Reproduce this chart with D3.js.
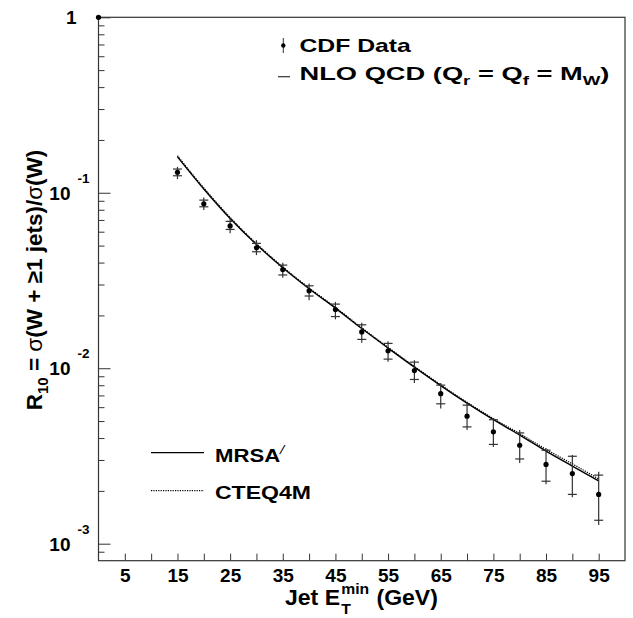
<!DOCTYPE html>
<html>
<head>
<meta charset="utf-8">
<script src="https://cdn.jsdelivr.net/npm/d3@7"></script>
<style>
  body { margin: 0; background: #fff; }
  text { font-family: "Liberation Sans", Arial, sans-serif; font-weight: bold; fill: #000; }
</style>
</head>
<body>
<div id="chart"></div>
<script>
var svgWidth = 633;
var svgHeight = 618;

var margin = { top: 17.3, right: 8, bottom: 57.3, left: 98.5 };
var width = svgWidth - margin.left - margin.right;
var height = svgHeight - margin.top - margin.bottom;

// CDF data: jet Et threshold (GeV) and R10
var etMin = [0, 15, 20, 25, 30, 35, 40, 45, 50, 55, 60, 65, 70, 75, 80, 85, 90, 95];
var r10 = [1, 0.1307, 0.0866, 0.0647, 0.0486, 0.0365, 0.0276, 0.0216, 0.0161, 0.01257, 0.0097, 0.00716, 0.00533, 0.00434, 0.00364, 0.00283, 0.00251, 0.00191];
// inner error (crossbars)
var statHi = [1, 0.1365, 0.0908, 0.0687, 0.0515, 0.0387, 0.0295, 0.0232, 0.01768, 0.01385, 0.01083, 0.00801, 0.00616, 0.00509, 0.00428, 0.00341, 0.00315, 0.00246];
var statLo = [1, 0.1250, 0.0832, 0.0618, 0.0461, 0.0340, 0.0258, 0.0197, 0.01460, 0.01127, 0.00863, 0.00627, 0.00463, 0.00368, 0.00304, 0.00227, 0.00191, 0.00136];
// total error (vertical line)
var totHi = [1, 0.1406, 0.0941, 0.0715, 0.0537, 0.0399, 0.0304, 0.0239, 0.01815, 0.01427, 0.01112, 0.00825, 0.00635, 0.00519, 0.00444, 0.00350, 0.00320, 0.00257];
var totLo = [1, 0.1197, 0.0797, 0.0587, 0.0441, 0.0328, 0.0244, 0.0190, 0.01396, 0.01088, 0.00825, 0.00590, 0.00444, 0.00356, 0.00288, 0.00218, 0.00184, 0.00128];

// NLO QCD predictions
var etTheory = [15, 20, 25, 30, 35, 40, 45, 50, 55, 60, 65, 70, 75, 80, 85, 90, 95];
var mrsa = [0.1603, 0.1050, 0.0713, 0.0507, 0.0374, 0.0284, 0.0220, 0.01683, 0.01303, 0.01014, 0.00796, 0.00632, 0.00509, 0.00416, 0.00337, 0.00277, 0.00228];
var cteq = [0.1625, 0.1065, 0.0723, 0.0513, 0.0378, 0.0287, 0.0222, 0.01700, 0.01315, 0.01023, 0.00804, 0.00639, 0.00516, 0.00424, 0.00345, 0.00285, 0.00234];

var xTicks = d3.range(5, 100, 5);
var xLabels = [5, 15, 25, 35, 45, 55, 65, 75, 85, 95];
var yDecades = [1e-3, 1e-2, 1e-1, 1];
var yExponents = ["-3", "-2", "-1"];

var svg = d3.select("#chart").append("svg")
  .attr("width", svgWidth)
  .attr("height", svgHeight);

var chartGroup = svg.append("g")
  .attr("transform", `translate(${margin.left}, ${margin.top})`);

var x = d3.scaleLinear().domain([0, 100]).range([0, width]);
var y = d3.scaleLog().domain([0.0008, 1]).range([height, 0]);

var axisColor = "#333";

// stretch a text horizontally so it spans a given width from x0
function stretch(sel, x0, targetWidth) {
  var w = sel.node().getBBox().width;
  var s = targetWidth / w;
  sel.attr("transform", `translate(${x0},0) scale(${s},1) translate(${-x0},0)`);
}

// frame
chartGroup.append("rect")
  .attr("width", width)
  .attr("height", height)
  .attr("fill", "none")
  .attr("stroke", axisColor)
  .attr("stroke-width", 1.2);

// x axis
var xAxis = chartGroup.append("g")
  .attr("transform", `translate(0, ${height})`)
  .call(d3.axisBottom(x)
    .tickValues(xTicks)
    .tickSizeInner(-7)
    .tickSizeOuter(0)
    .tickPadding(8)
    .tickFormat(d => xLabels.indexOf(d) >= 0 ? d : ""));
xAxis.select(".domain").remove();
xAxis.selectAll("line").attr("stroke", axisColor);
xAxis.selectAll("text")
  .attr("font-size", "19px")
  .attr("font-family", "Liberation Sans, Arial, sans-serif")
  .attr("font-weight", "bold")
  .attr("fill", "#000");

// y axis: decades and minor ticks
var yMinor = [];
[1e-4, 1e-3, 1e-2, 1e-1].forEach(function(dec) {
  d3.range(2, 10).forEach(function(m) {
    var v = m * dec;
    if (v > 0.00081 && v < 1) yMinor.push(v);
  });
});

var yMajorAxis = chartGroup.append("g")
  .call(d3.axisLeft(y).tickValues(yDecades).tickSizeInner(-12).tickSizeOuter(0).tickFormat(""));
var yMinorAxis = chartGroup.append("g")
  .call(d3.axisLeft(y).tickValues(yMinor).tickSizeInner(-6).tickSizeOuter(0).tickFormat(""));
[yMajorAxis, yMinorAxis].forEach(function(a) {
  a.select(".domain").remove();
  a.selectAll("line").attr("stroke", axisColor);
});

// y tick labels 10^n
var yLab = chartGroup.append("g");
yLab.append("text")
  .attr("x", -22)
  .attr("y", y(1) + 7)
  .attr("text-anchor", "end")
  .attr("font-size", "19px")
  .text("1");
yDecades.slice(0, 3).forEach(function(v, i) {
  yLab.append("text")
    .attr("x", -28)
    .attr("y", y(v) + 7)
    .attr("text-anchor", "end")
    .attr("font-size", "19px")
    .text("10");
  yLab.append("text")
    .attr("x", -21)
    .attr("y", y(v) - 10)
    .attr("font-size", "13.5px")
    .text(yExponents[i]);
});

// theory curves
var line = d3.line()
  .x((d, i) => x(etTheory[i]))
  .y(d => y(d))
  .curve(d3.curveMonotoneX);

chartGroup.append("path")
  .attr("d", line(cteq))
  .attr("fill", "none")
  .attr("stroke", "#000")
  .attr("stroke-width", 1.3)
  .attr("stroke-dasharray", "1.2,1.2");

chartGroup.append("path")
  .attr("d", line(mrsa))
  .attr("fill", "none")
  .attr("stroke", "#000")
  .attr("stroke-width", 1.4);

// data points with error bars
var points = chartGroup.selectAll(".pt")
  .data(etMin)
  .enter()
  .append("g")
  .attr("class", "pt");

points.append("line")
  .attr("x1", d => x(d)).attr("x2", d => x(d))
  .attr("y1", (d, i) => y(totHi[i]))
  .attr("y2", (d, i) => y(totLo[i]))
  .attr("stroke", "#333")
  .attr("stroke-width", 1.2);

[statHi, statLo].forEach(function(arr) {
  points.filter((d, i) => i > 0).append("line")
    .attr("x1", d => x(d) - 4.5).attr("x2", d => x(d) + 4.5)
    .attr("y1", d => y(arr[etMin.indexOf(d)]))
    .attr("y2", d => y(arr[etMin.indexOf(d)]))
    .attr("stroke", "#333")
    .attr("stroke-width", 1.2);
});

points.append("circle")
  .attr("cx", d => x(d))
  .attr("cy", (d, i) => y(r10[i]))
  .attr("r", 2.6)
  .attr("fill", "#000");

// top legend
svg.append("line")
  .attr("x1", 283.3).attr("x2", 283.3)
  .attr("y1", 38).attr("y2", 53)
  .attr("stroke", "#333").attr("stroke-width", 1);
svg.append("circle")
  .attr("cx", 283.3).attr("cy", 45.5).attr("r", 2.2).attr("fill", "#000");
var cdf = svg.append("text")
  .attr("x", 299.5).attr("y", 51.7)
  .attr("font-size", "19px")
  .text("CDF Data");
stretch(cdf, 299.5, 112);

svg.append("line")
  .attr("x1", 278).attr("x2", 290)
  .attr("y1", 76.7).attr("y2", 76.7)
  .attr("stroke", "#333").attr("stroke-width", 1.2);
var nlo = svg.append("text")
  .attr("x", 299.5).attr("y", 80.5)
  .attr("font-size", "19px");
nlo.append("tspan").text("NLO QCD (Q");
nlo.append("tspan").attr("font-size", "13px").attr("dy", 5).text("r");
nlo.append("tspan").attr("dy", -5).text(" = Q");
nlo.append("tspan").attr("font-size", "13px").attr("dy", 5).text("f");
nlo.append("tspan").attr("dy", -5).text(" = M");
nlo.append("tspan").attr("font-size", "13px").attr("dy", 5).text("W");
nlo.append("tspan").attr("dy", -5).text(")");
stretch(nlo, 299.5, 310);

// bottom legend
svg.append("line")
  .attr("x1", 151).attr("x2", 204)
  .attr("y1", 452.7).attr("y2", 452.7)
  .attr("stroke", "#000").attr("stroke-width", 1.3);
var mr = svg.append("text")
  .attr("x", 215).attr("y", 461.7)
  .attr("font-size", "19px");
mr.append("tspan").text("MRSA");
mr.append("tspan").attr("font-size", "13px").attr("font-style", "italic").attr("font-weight", "normal").attr("dy", -8).text("/");
stretch(mr, 215, 71);

svg.append("line")
  .attr("x1", 151).attr("x2", 204)
  .attr("y1", 490.7).attr("y2", 490.7)
  .attr("stroke", "#000").attr("stroke-width", 1.2)
  .attr("stroke-dasharray", "1.2,1.2");
var ct = svg.append("text")
  .attr("x", 215).attr("y", 499)
  .attr("font-size", "19px")
  .text("CTEQ4M");
stretch(ct, 215, 96);

// x axis title
var xt = svg.append("g");
var xt1 = xt.append("text").attr("x", 285).attr("y", 605).attr("font-size", "22px").text("Jet E");
var w1 = xt1.node().getComputedTextLength();
xt.append("text").attr("x", 285 + w1 + 1).attr("y", 614.5).attr("font-size", "15px").text("T");
var xt3 = xt.append("text").attr("x", 285 + w1 + 1).attr("y", 594.5).attr("font-size", "15px").text("min");
var w3 = xt3.node().getComputedTextLength();
xt.append("text").attr("x", 285 + w1 + w3 + 8).attr("y", 605).attr("font-size", "22px").text("(GeV)");
stretch(xt, 285, 153);

// y axis title
var yt = svg.append("text")
  .attr("transform", "translate(42, 280) rotate(-90)")
  .attr("text-anchor", "middle")
  .attr("font-size", "22.5px");
yt.append("tspan").text("R");
yt.append("tspan").attr("font-size", "15px").attr("dy", 6).text("10");
yt.append("tspan").attr("dy", -6).text(" = ");
yt.append("tspan").attr("font-weight", "normal").text("σ");
yt.append("tspan").text("(W + ≥1 jets)/");
yt.append("tspan").attr("font-weight", "normal").text("σ");
yt.append("tspan").text("(W)");
</script>
</body>
</html>
